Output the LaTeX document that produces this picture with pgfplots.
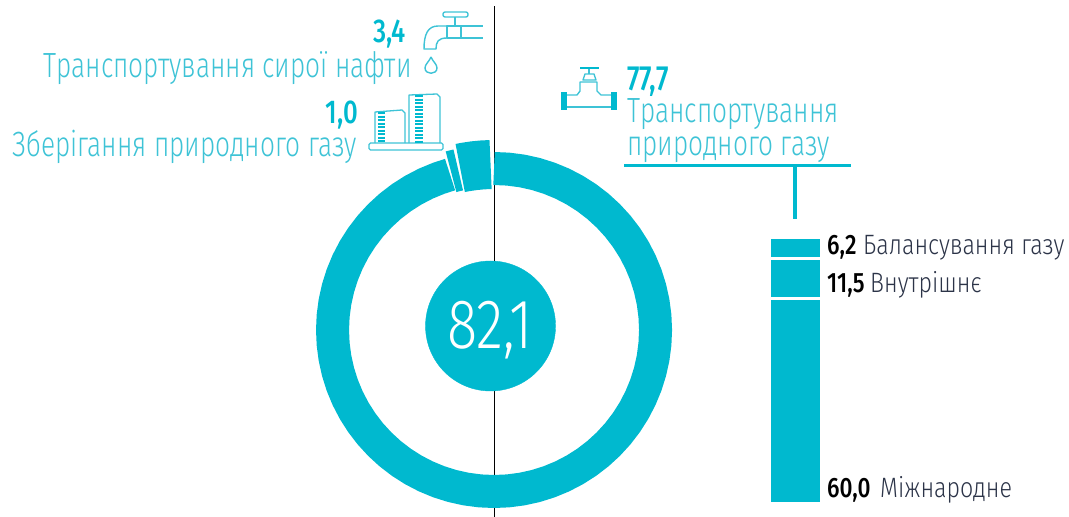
\documentclass[border=0pt]{standalone}
\usepackage{fontspec}
\usepackage{pgfplots}
\pgfplotsset{compat=1.18}
\setmainfont{Fira Sans}
\newfontfamily\lblfont[FakeStretch=0.75]{Fira Sans Light}
\newfontfamily\numfont[FakeStretch=0.78]{Fira Sans Medium}
\newfontfamily\barlbl[FakeStretch=0.83]{Fira Sans Light}
\newfontfamily\barnum[FakeStretch=0.81]{Fira Sans Medium}
\newfontfamily\dinthin[FakeStretch=0.80]{Fira Sans Light}
\definecolor{teal1}{HTML}{00B9CF}
\definecolor{tealtxt}{HTML}{3EC3D6}
\definecolor{darktxt}{HTML}{2C3448}

% one axis in image pixels
\pgfplotsset{frame/.style={
    at={(0pt,0pt)}, anchor=south west,
    width=1069pt, height=517pt, scale only axis,
    hide axis, clip=false}}

\begin{document}
\begin{tikzpicture}
\path[use as bounding box] (0pt,0pt) rectangle (1069pt,517pt);

% centre line and annotations, y pointing down
\begin{axis}[frame, xmin=0, xmax=1069, ymin=0, ymax=517, y dir=reverse]
  \addplot[black, line width=1.5pt] coordinates {(494.5,6) (494.5,517)};
  \addplot[teal1, line width=3pt] coordinates {(624,165) (851,165)};
  \addplot[teal1, line width=3.5pt] coordinates {(795,165) (795,219)};

  % left labels
  \node[anchor=base east, inner sep=0, text=teal1, font=\numfont\fontsize{33}{33}\selectfont] at (axis cs:406,42) {3,4};
  \node[anchor=base east, inner sep=0, text=tealtxt, font=\lblfont\fontsize{35}{35}\selectfont] at (axis cs:412,77) {Транспортування сирої нафти};
  \node[anchor=base east, inner sep=0, text=teal1, font=\numfont\fontsize{33}{33}\selectfont] at (axis cs:358,123) {1,0};
  \node[anchor=base east, inner sep=0, text=tealtxt, font=\lblfont\fontsize{35}{35}\selectfont] at (axis cs:357,156) {Зберігання природного газу};

  % right labels
  \node[anchor=base west, inner sep=0, text=teal1, font=\numfont\fontsize{35}{35}\selectfont] at (axis cs:627,90) {77,7};
  \node[anchor=base west, inner sep=0, text=tealtxt, font=\lblfont\fontsize{35}{35}\selectfont] at (axis cs:627,122) {Транспортування};
  \node[anchor=base west, inner sep=0, text=tealtxt, font=\lblfont\fontsize{35}{35}\selectfont] at (axis cs:627,155) {природного газу};

  % bar labels
  \node[anchor=base west, inner sep=0, text=black, font=\barnum\fontsize{28}{28}\selectfont] at (axis cs:827,254) {6,2};
  \node[anchor=base west, inner sep=0, text=darktxt, font=\barlbl\fontsize{28}{28}\selectfont] at (axis cs:863,254) {Балансування газу};
  \node[anchor=base west, inner sep=0, text=black, font=\barnum\fontsize{28}{28}\selectfont] at (axis cs:827,292) {11,5};
  \node[anchor=base west, inner sep=0, text=darktxt, font=\barlbl\fontsize{28}{28}\selectfont] at (axis cs:870,292) {Внутрішнє};
  \node[anchor=base west, inner sep=0, text=black, font=\barnum\fontsize{28}{28}\selectfont] at (axis cs:827,497) {60,0};
  \node[anchor=base west, inner sep=0, text=darktxt, font=\barlbl\fontsize{28}{28}\selectfont] at (axis cs:880,497) {Міжнародне};

  % faucet icon
  \begin{scope}[draw=tealtxt, line width=1.4pt, line join=round]
    \draw[rounded corners=2pt] (axis cs:443,12) rectangle (axis cs:468,17);
    \draw (axis cs:455,17) -- (axis cs:455,26);
    \draw (axis cs:447,26) rectangle (axis cs:461,38);
    \draw (axis cs:461,26) -- (axis cs:483,26) (axis cs:461,38) -- (axis cs:483,38);
    \draw (axis cs:447,26) -- (axis cs:438,26) .. controls (axis cs:428,26) and (axis cs:424,34) .. (axis cs:424,49)
       -- (axis cs:436,49) .. controls (axis cs:436,42) and (axis cs:438,38) .. (axis cs:447,38);
    \draw (axis cs:431,57) .. controls (axis cs:429,62) and (axis cs:425,64) .. (axis cs:425,68)
       .. controls (axis cs:425,75) and (axis cs:437,75) .. (axis cs:437,68)
       .. controls (axis cs:437,64) and (axis cs:433,62) .. (axis cs:431,57);
  \end{scope}

  % storage tanks icon
  \begin{scope}[draw=tealtxt, line width=1.3pt, line join=round]
    \draw[rounded corners=1.5pt] (axis cs:369,143) rectangle (axis cs:443,150);
    \draw (axis cs:409,143) -- (axis cs:409,95) -- (axis cs:437,94) -- (axis cs:440,97) -- (axis cs:440,143);
    \draw (axis cs:375,143) -- (axis cs:375,112) -- (axis cs:402,110) -- (axis cs:405,113) -- (axis cs:405,143);
    \draw[teal1, line width=8pt, dash pattern=on 2pt off 1.5pt] (axis cs:419,95) -- (axis cs:419,143);
    \draw[teal1, line width=7pt, dash pattern=on 2pt off 1.5pt] (axis cs:381,112) -- (axis cs:381,143);
  \end{scope}

  % valve icon
  \begin{scope}[draw=tealtxt, line width=1.4pt, line join=round]
    \fill[teal1] (axis cs:561,92) rectangle (axis cs:567,110);
    \fill[teal1] (axis cs:611,92) rectangle (axis cs:617,110);
    \draw (axis cs:567,107) -- (axis cs:611,107);
    \draw (axis cs:567,95) -- (axis cs:577,95) -- (axis cs:580,91) -- (axis cs:580,82) -- (axis cs:597,82)
       -- (axis cs:597,91) -- (axis cs:601,95) -- (axis cs:611,95);
    \draw (axis cs:583,80) -- (axis cs:585,74) -- (axis cs:594,74) -- (axis cs:596,80) -- cycle;
    \draw (axis cs:589,69) -- (axis cs:589,74);
    \draw[teal1, line width=2.2pt] (axis cs:580,68) -- (axis cs:599,68);
  \end{scope}
\end{axis}

% ring, origin at its centre
\begin{axis}[frame, xmin=-494, xmax=575, ymin=-187, ymax=330]
  \addplot[teal1, line width=33pt, line join=round, data cs=polar] coordinates {
    (90,161.5) (85,161.5) (80,161.5) (75,161.5) (70,161.5) (65,161.5) (60,161.5) (55,161.5) (50,161.5)
    (45,161.5) (40,161.5) (35,161.5) (30,161.5) (25,161.5) (20,161.5) (15,161.5) (10,161.5) (5,161.5)
    (0,161.5) (-5,161.5) (-10,161.5) (-15,161.5) (-20,161.5) (-25,161.5) (-30,161.5) (-35,161.5)
    (-40,161.5) (-45,161.5) (-50,161.5) (-55,161.5) (-60,161.5) (-65,161.5) (-70,161.5) (-75,161.5)
    (-80,161.5) (-85,161.5) (-90,161.5) (-95,161.5) (-100,161.5) (-105,161.5) (-110,161.5) (-115,161.5)
    (-120,161.5) (-125,161.5) (-130,161.5) (-135,161.5) (-140,161.5) (-145,161.5) (-150,161.5)
    (-155,161.5) (-160,161.5) (-165,161.5) (-170,161.5) (-175,161.5) (-180,161.5) (-185,161.5)
    (-190,161.5) (-195,161.5) (-200,161.5) (-205,161.5) (-210,161.5) (-215,161.5) (-220,161.5)
    (-225,161.5) (-230,161.5) (-235,161.5) (-240,161.5) (-245,161.5) (-250,161.5) (-254.2,161.5)};
  \addplot[teal1, line width=42pt, line join=round, data cs=polar] coordinates {
    (102.6,164) (104,164) (105.2,164)};
  \addplot[teal1, line width=49pt, line join=round, data cs=polar] coordinates {
    (91.2,165.5) (94,165.5) (97,165.5) (100,165.5) (101.8,165.5)};
  \addplot[teal1, only marks, mark=*, mark size=65pt, mark options={draw=none, fill=teal1}] coordinates {(-3.5,4)};
\end{axis}

% centre total, above the circle
\begin{axis}[frame, xmin=0, xmax=1069, ymin=0, ymax=517, y dir=reverse]
  \node[text=white, inner sep=0, anchor=base, font=\dinthin\fontsize{70}{70}\selectfont] at (axis cs:490,348) {82,1};
\end{axis}

% stacked bar
\begin{axis}[hide axis, clip=false, scale only axis, at={(795.5pt,13.5pt)}, anchor=south,
    width=100pt, height=266pt, xmin=-1, xmax=1, ymin=0, ymax=77.7,
    ybar stacked, bar width=52pt]
  \addplot[fill=teal1, draw=white, line width=3pt] coordinates {(0,60.0)};
  \addplot[fill=teal1, draw=white, line width=3pt] coordinates {(0,11.5)};
  \addplot[fill=teal1, draw=white, line width=3pt] coordinates {(0,6.2)};
\end{axis}
\end{tikzpicture}
\end{document}
